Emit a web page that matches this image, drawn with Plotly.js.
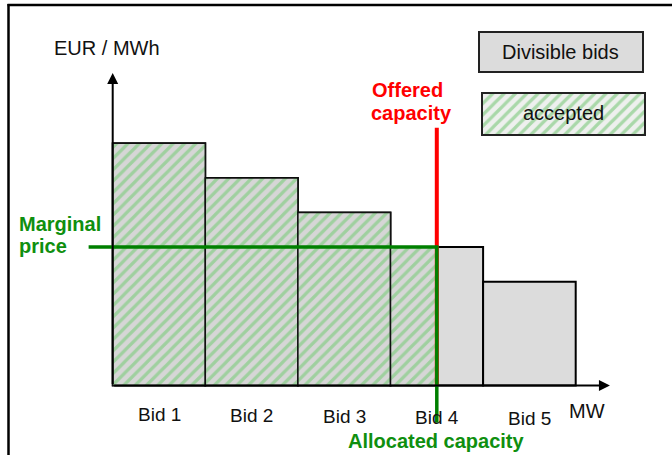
<!DOCTYPE html>
<html><head><meta charset="utf-8">
<script src="https://cdn.plot.ly/plotly-3.0.1.min.js"></script>
<style>html,body{margin:0;padding:0;background:#fff}#chart{width:672px;height:455px}</style>
</head><body><div id="chart"></div>
<script>
// ---- data ----
const bidLabels = ['Bid 1', 'Bid 2', 'Bid 3', 'Bid 4', 'Bid 5'];
const bidCapacity = [1, 1, 1, 1, 1];      // MW
const bidPrice = [7, 6, 5, 4, 3];         // EUR / MWh
const offeredCapacity = 3.5;              // MW
const marginalPrice = 4;                  // EUR / MWh
const legendLabels = ['Divisible bids', 'accepted'];
const yAxisLabel = 'EUR / MWh';
const xAxisLabel = 'MW';

// ---- derived ----
const starts = [];
let acc = 0;
bidCapacity.forEach(w => { starts.push(acc); acc += w; });
const centers = starts.map((s, i) => s + bidCapacity[i] / 2);
const accW = [], accX = [], accY = [];
starts.forEach((s, i) => {
  const w = Math.max(0, Math.min(bidCapacity[i], offeredCapacity - s));
  if (w > 0) { accW.push(w); accX.push(s + w / 2); accY.push(bidPrice[i]); }
});

// ---- page geometry (pixel mapping of the plot) ----
const W = 672, H = 455;
const X0 = 112.7, SX = 92.6, Y0 = 385.5, SY = 34.6;
const xr = [-X0 / SX, (W - X0) / SX];
const yr = [-(H - Y0) / SY, Y0 / SY];
const px = v => v / W, py = v => 1 - v / H;

const FONT = 'Liberation Sans, Arial, sans-serif';
const GREEN = '#008000', GREEN_T = '#0f8f0f', RED = '#ff0000';

const hatch = (bg, fg) => ({shape: '/', bgcolor: bg, fgcolor: fg, size: 8, solidity: 0.4, fillmode: 'replace'});

const traces = [
  {type: 'bar', x: centers, y: bidPrice, width: bidCapacity, hoverinfo: 'skip',
   marker: {color: '#dcdcdc', line: {color: '#000', width: 2}}},
  {type: 'bar', x: accX, y: accY, width: accW, hoverinfo: 'skip',
   marker: {color: '#d6d6d6', pattern: hatch('#d6d6d6', '#9fd09f'), line: {color: '#111', width: 1.5}}},
  {type: 'scatter', mode: 'lines', hoverinfo: 'skip',
   x: [offeredCapacity, offeredCapacity], y: [0, Math.max(...bidPrice) + 0.45],
   line: {color: RED, width: 4}},
  {type: 'scatter', mode: 'lines', hoverinfo: 'skip',
   x: [-0.26, offeredCapacity, offeredCapacity], y: [marginalPrice, marginalPrice, -1.08],
   line: {color: GREEN, width: 3.5}},
  // hatched legend swatch
  {type: 'bar', x: [0], y: [1], width: [1], xaxis: 'x2', yaxis: 'y2', hoverinfo: 'skip',
   marker: {color: '#eef0ee', pattern: hatch('#eef0ee', '#a9d8a9'), line: {width: 0}}}
];

const txt = (text, x, y, opts = {}) => Object.assign({
  text, x, y, xref: 'paper', yref: 'paper', showarrow: false,
  xanchor: 'center', yanchor: 'middle',
  font: {family: FONT, size: 20, color: '#111'}
}, opts);

const annotations = [
  // axis arrows
  {x: 0, y: 9.03, ax: 0, ay: 0, xref: 'x', yref: 'y', axref: 'x', ayref: 'y', text: '',
   showarrow: true, arrowhead: 2, arrowsize: 1.1, arrowwidth: 2, arrowcolor: '#000'},
  {x: 5.37, y: 0, ax: 0, ay: 0, xref: 'x', yref: 'y', axref: 'x', ayref: 'y', text: '',
   showarrow: true, arrowhead: 2, arrowsize: 1.1, arrowwidth: 2, arrowcolor: '#000'},
  txt(yAxisLabel, px(107), py(48)),
  txt(xAxisLabel, px(587), py(410.5)),
  txt(legendLabels[0], px(560), py(52)),
  txt(legendLabels[1], px(563), py(113)),
  txt('Offered', px(408), py(90), {font: {family: FONT, size: 20, color: RED, weight: 'bold'}}),
  txt('capacity', px(411), py(113), {font: {family: FONT, size: 20, color: RED, weight: 'bold'}}),
  txt('Marginal', px(17), py(224), {xanchor: 'left', font: {family: FONT, size: 20, color: GREEN_T, weight: 'bold'}}),
  txt('price', px(17), py(246), {xanchor: 'left', font: {family: FONT, size: 20, color: GREEN_T, weight: 'bold'}}),
  {text: 'Allocated capacity', x: offeredCapacity, y: py(440.7), xref: 'x', yref: 'paper', showarrow: false,
   xanchor: 'center', yanchor: 'middle', font: {family: FONT, size: 20, color: GREEN_T, weight: 'bold'}}
];
bidLabels.forEach((b, i) => annotations.push({
  text: b, x: centers[i], y: py(414 + i), xref: 'x', yref: 'paper', showarrow: false,
  xanchor: 'center', yanchor: 'middle', font: {family: FONT, size: 19, color: '#111'}
}));

const shapes = [
  {type: 'line', xref: 'paper', yref: 'paper', x0: px(8.5), x1: px(8.5), y0: py(4), y1: py(H + 2), line: {color: '#000', width: 2.5}},
  {type: 'line', xref: 'paper', yref: 'paper', x0: px(7.5), x1: px(W + 2), y0: py(5), y1: py(5), line: {color: '#000', width: 2.5}},
  {type: 'rect', xref: 'paper', yref: 'paper', x0: px(479), x1: px(643), y0: py(32), y1: py(72),
   fillcolor: '#dcdcdc', line: {color: '#222', width: 2}, layer: 'below'},
  {type: 'rect', xref: 'paper', yref: 'paper', x0: px(482), x1: px(645), y0: py(93), y1: py(135),
   line: {color: '#222', width: 2}, layer: 'above'}
];

const layout = {
  width: W, height: H, margin: {l: 0, r: 0, t: 0, b: 0},
  paper_bgcolor: '#fff', plot_bgcolor: 'rgba(0,0,0,0)', showlegend: false,
  barmode: 'overlay', bargap: 0,
  xaxis: {range: xr, visible: false, fixedrange: true, domain: [0, 1]},
  yaxis: {range: yr, visible: false, fixedrange: true, domain: [0, 1]},
  xaxis2: {range: [-0.5, 0.5], visible: false, fixedrange: true, anchor: 'y2', domain: [px(482), px(645)]},
  yaxis2: {range: [0, 1], visible: false, fixedrange: true, anchor: 'x2', domain: [py(135), py(93)]},
  font: {family: FONT},
  annotations, shapes
};

Plotly.newPlot('chart', traces, layout, {staticPlot: true, displayModeBar: false});
</script>
</body></html>
